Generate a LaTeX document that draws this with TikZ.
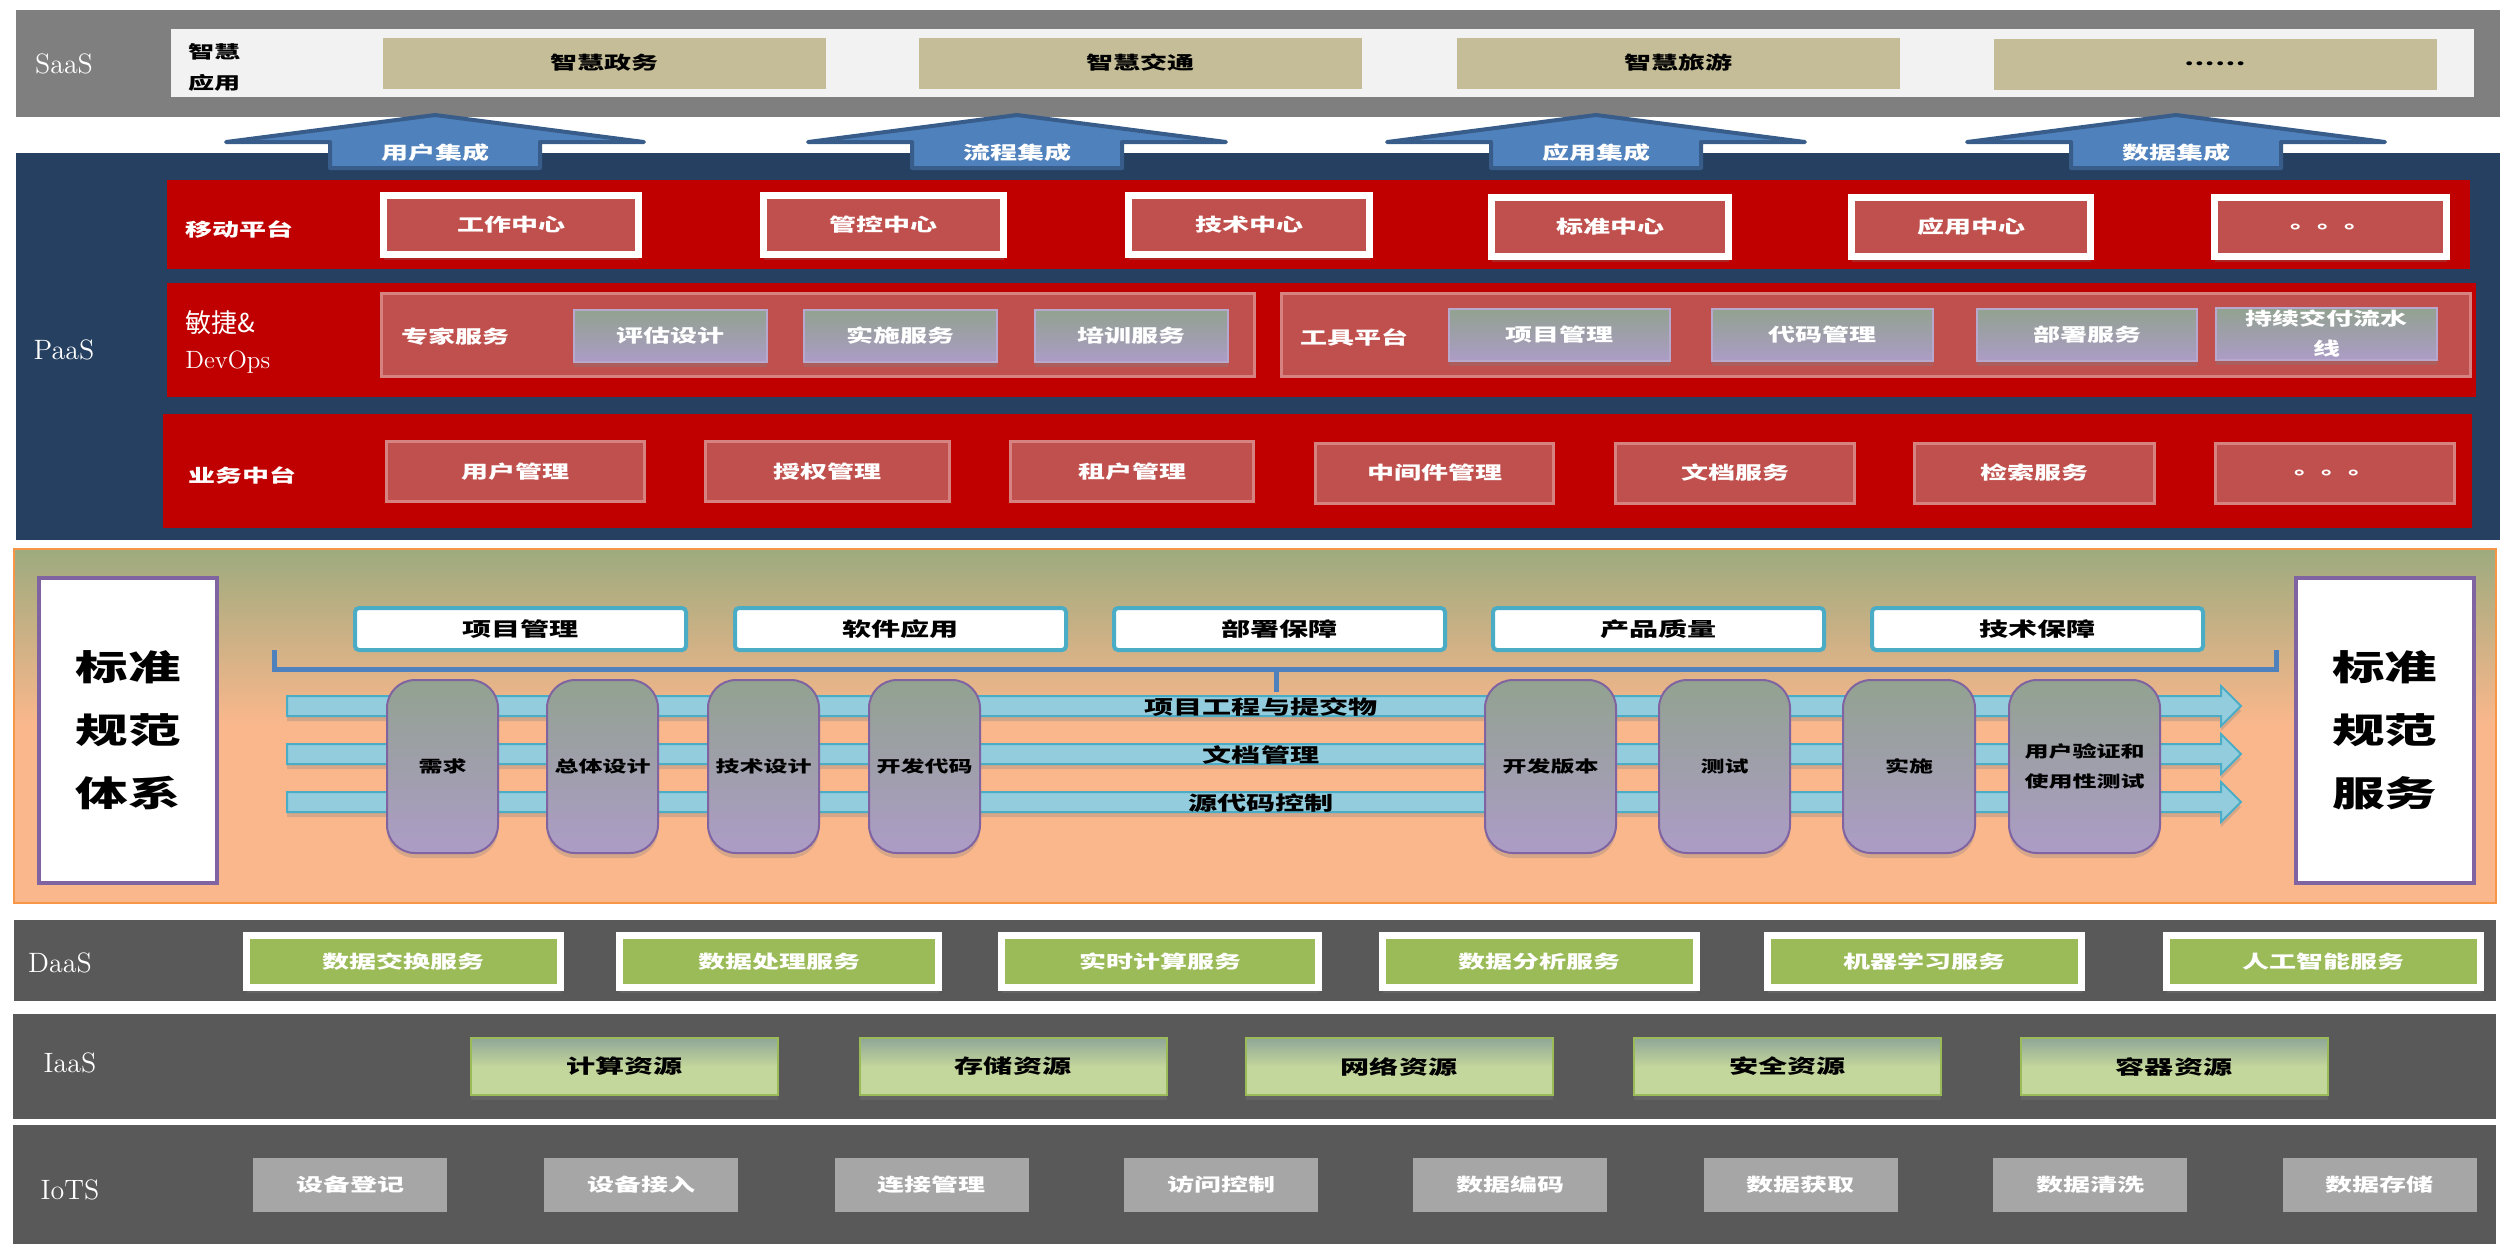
\documentclass[tikz,border=0pt]{standalone}
\usepackage{fontspec}
\newfontfamily\cjk[FakeStretch=1.5]{Noto Sans CJK SC}
\newfontfamily\cjkn{Noto Sans CJK SC}
\usepackage{tikz}
\usetikzlibrary{shadows}
\definecolor{argray}{RGB}{127,127,127}
\definecolor{arpanel}{RGB}{242,242,242}
\definecolor{arkhaki}{RGB}{196,189,151}
\definecolor{arblue}{RGB}{79,129,189}
\definecolor{arblueD}{RGB}{56,93,138}
\definecolor{arnavy}{RGB}{37,64,97}
\definecolor{arred}{RGB}{192,0,0}
\definecolor{arrose}{RGB}{192,80,77}
\definecolor{arpink}{RGB}{214,130,128}
\definecolor{arsage}{RGB}{146,162,144}
\definecolor{arlav}{RGB}{172,156,198}
\definecolor{arlavL}{RGB}{183,169,206}
\definecolor{arviolet}{RGB}{128,100,162}
\definecolor{arolive}{RGB}{157,171,126}
\definecolor{arpeach}{RGB}{251,183,140}
\definecolor{arorange}{RGB}{247,150,70}
\definecolor{arteal}{RGB}{75,172,198}
\definecolor{araqua}{RGB}{147,205,221}
\definecolor{ardark}{RGB}{89,89,89}
\definecolor{argreen}{RGB}{155,187,89}
\definecolor{argreenL}{RGB}{195,214,155}
\definecolor{argreenG}{RGB}{143,166,152}
\definecolor{arsilver}{RGB}{166,166,166}

\begin{document}
\begin{tikzpicture}[x=0.5pt, y=-0.5pt,
  softshadow/.style={drop shadow={shadow xshift=0pt, shadow yshift=-2.5pt, opacity=0.3}},
  tierlbl/.style={text=white, font=\fontsize{14}{16}\selectfont, inner sep=0pt},
  rowlbl/.style={text=white, font=\cjk\bfseries\fontsize{9}{11}\selectfont, inner sep=0pt},
  appbox/.style={
    rectangle, fill=arkhaki,
    minimum width=221.5pt, minimum height=25.5pt, inner sep=0pt,
    font=\cjk\bfseries\fontsize{9}{11}\selectfont
  },
  integ/.style={draw=arblueD, fill=arblue, line width=2pt, line join=round},
  centerbox/.style={
    rectangle, fill=arrose, draw=white, line width=3.5pt,
    minimum height=29.5pt, inner sep=0pt, softshadow,
    text=white, font=\cjk\bfseries\fontsize{9}{11}\selectfont
  },
  groupbox/.style={rectangle, fill=arrose, draw=arpink, line width=1.5pt, minimum height=41.5pt},
  devbox/.style={
    rectangle, top color=arsage, bottom color=arlav, draw=arlavL, line width=1pt,
    minimum height=26pt, inner sep=0pt, softshadow, align=center,
    text=white, font=\cjk\bfseries\fontsize{9}{15}\selectfont
  },
  svcbox/.style={
    rectangle, fill=arrose, draw=arpink, line width=1.5pt,
    minimum height=30pt, inner sep=0pt,
    text=white, font=\cjk\bfseries\fontsize{9}{11}\selectfont
  },
  stdbox/.style={
    rectangle, fill=white, draw=arviolet, line width=2pt,
    minimum width=89pt, minimum height=152.5pt, align=center,
    font=\cjk\bfseries\fontsize{17.5}{31.5}\selectfont
  },
  areabox/.style={
    rectangle, rounded corners=2pt, fill=white, draw=arteal, line width=2pt,
    minimum width=165.5pt, minimum height=21pt, inner sep=0pt,
    font=\cjk\bfseries\fontsize{9.7}{11}\selectfont
  },
  pillar/.style={
    rectangle, rounded corners=14pt, top color=arsage, bottom color=arlav,
    draw=arviolet, line width=1pt, minimum height=86.5pt, inner sep=0pt,
    softshadow, align=center, font=\cjk\bfseries\fontsize{8}{15}\selectfont
  },
  flow/.style={fill=araqua, draw=arteal, line width=1pt, softshadow},
  flowlbl/.style={font=\cjk\bfseries\fontsize{9.7}{11}\selectfont, inner sep=0pt},
  databox/.style={
    rectangle, fill=argreen, draw=white, line width=3.5pt,
    minimum height=26pt, inner sep=0pt, softshadow,
    text=white, font=\cjk\bfseries\fontsize{9}{11}\selectfont
  },
  resbox/.style={
    rectangle, top color=argreenG, bottom color=argreenL, middle color=argreenL,
    draw=argreen, line width=1pt,
    minimum width=153.5pt, minimum height=28.5pt, inner sep=0pt, softshadow,
    font=\cjk\bfseries\fontsize{9.7}{11}\selectfont
  },
  iotbox/.style={
    rectangle, fill=arsilver, minimum width=97pt, minimum height=27pt, inner sep=0pt,
    text=white, font=\cjk\bfseries\fontsize{9}{11}\selectfont
  }
]
\useasboundingbox (0,0) rectangle (2503,1244);

% SaaS
\fill[argray] (16,10) rectangle (2500,117);
\fill[arpanel] (171,29) rectangle (2474,97);
\node[tierlbl] (saas) at (64,64) {SaaS};
\node[anchor=west, align=left, inner sep=0pt, font=\cjk\bfseries\fontsize{8.7}{15.5}\selectfont] (smart) at (188,67) {智慧\\应用};
\node[appbox] (app1) at (604,63)  {智慧政务};
\node[appbox] (app2) at (1140,63) {智慧交通};
\node[appbox] (app3) at (1678,63) {智慧旅游};
\node[appbox] (app4) at (2215,64) {……};

% PaaS
\fill[arnavy] (16,153) rectangle (2500,540);
\node[tierlbl] (paas) at (64,350) {PaaS};

\draw[integ] (435,115) -- (644,142) -- (540,142) -- (540,168) -- (330,168) -- (330,142) -- (226,142) -- cycle;
\draw[integ] (1017,115) -- (1226,142) -- (1122,142) -- (1122,168) -- (912,168) -- (912,142) -- (808,142) -- cycle;
\draw[integ] (1596,115) -- (1805,142) -- (1701,142) -- (1701,168) -- (1491,168) -- (1491,142) -- (1387,142) -- cycle;
\draw[integ] (2176,115) -- (2385,142) -- (2281,142) -- (2281,168) -- (2071,168) -- (2071,142) -- (1967,142) -- cycle;
\node[rowlbl] (int1) at (435,153)  {用户集成};
\node[rowlbl] (int2) at (1017,153) {流程集成};
\node[rowlbl] (int3) at (1596,153) {应用集成};
\node[rowlbl] (int4) at (2176,153) {数据集成};

\fill[arred] (167,180) rectangle (2470,269);
\node[rowlbl] (mobile) at (239,229) {移动平台};
\node[centerbox, minimum width=127.5pt] (mc1) at (511,225)    {工作中心};
\node[centerbox, minimum width=120pt]   (mc2) at (883.5,225)  {管控中心};
\node[centerbox, minimum width=120.5pt] (mc3) at (1249,225)   {技术中心};
\node[centerbox, minimum width=118.5pt] (mc4) at (1610,227)   {标准中心};
\node[centerbox, minimum width=119.5pt] (mc5) at (1971,227)   {应用中心};
\node[centerbox, minimum width=116pt]   (mc6) at (2330.5,227) {。。。};

\fill[arred] (167,283) rectangle (2476,397);
\node[anchor=west, inner sep=0pt, text=white, font=\cjkn\fontsize{13}{15}\selectfont] (agile) at (185,323) {敏捷\&};
\node[anchor=west, inner sep=0pt, text=white, font=\fontsize{12.5}{14}\selectfont] (devops) at (185,362) {DevOps};
\node[groupbox, minimum width=436.5pt] (expert) at (818,335) {};
\node[groupbox, minimum width=594.5pt] (tools) at (1876,335) {};
\node[rowlbl] (expertlbl) at (455,337)  {专家服务};
\node[rowlbl] (toolslbl)  at (1354,337) {工具平台};
\node[devbox, minimum width=96.5pt]  (ex1) at (670.5,336)  {评估设计};
\node[devbox, minimum width=96.5pt]  (ex2) at (900.5,336)  {实施服务};
\node[devbox, minimum width=96.5pt]  (ex3) at (1131.5,336) {培训服务};
\node[devbox, minimum width=110.5pt] (tl1) at (1559.5,335) {项目管理};
\node[devbox, minimum width=110.5pt] (tl2) at (1822.5,335) {代码管理};
\node[devbox, minimum width=110pt]   (tl3) at (2087,335)   {部署服务};
\node[devbox, minimum width=110.5pt] (tl4) at (2326.5,334) {持续交付流水\\线};

\fill[arred] (163,414) rectangle (2472,528);
\node[rowlbl] (business) at (242,475) {业务中台};
\node[svcbox, minimum width=129pt]   (bs1) at (515.5,471.5) {用户管理};
\node[svcbox, minimum width=122pt]   (bs2) at (827.5,471.5) {授权管理};
\node[svcbox, minimum width=121.5pt] (bs3) at (1132,471.5)  {租户管理};
\node[svcbox, minimum width=119pt]   (bs4) at (1434.5,473)  {中间件管理};
\node[svcbox, minimum width=119.5pt] (bs5) at (1735,473)    {文档服务};
\node[svcbox, minimum width=120pt]   (bs6) at (2034.5,473)  {检索服务};
\node[svcbox, minimum width=119.5pt] (bs7) at (2335,473)    {。。。};

% standards
\shade[top color=arolive, bottom color=arpeach, middle color=arpeach] (14,549) rectangle (2496,903);
\draw[arorange, line width=1pt] (14,549) rectangle (2496,903);
\node[stdbox] (stdsys) at (128,730.5)    {标准\\规范\\体系};
\node[stdbox] (stdsvc) at (2384.5,730.5) {标准\\规范\\服务};
\node[areabox] (ar1) at (520.5,629)  {项目管理};
\node[areabox] (ar2) at (900.5,629)  {软件应用};
\node[areabox] (ar3) at (1279.5,629) {部署保障};
\node[areabox] (ar4) at (1658.5,629) {产品质量};
\node[areabox] (ar5) at (2037.5,629) {技术保障};
\draw[arblue, line width=2.5pt] (274,650) -- (274,669) -- (2276,669) -- (2276,650);
\draw[arblue, line width=2.5pt] (1276,669) -- (1276,692);

\draw[flow] (287,696) -- (2221,696) -- (2221,686) -- (2241,706) -- (2221,726) -- (2221,716) -- (287,716) -- cycle;
\draw[flow] (287,744) -- (2221,744) -- (2221,734) -- (2241,754) -- (2221,774) -- (2221,764) -- (287,764) -- cycle;
\draw[flow] (287,792) -- (2221,792) -- (2221,782) -- (2241,802) -- (2221,822) -- (2221,812) -- (287,812) -- cycle;

\node[pillar, minimum width=55.5pt] (ph1) at (442.5,766.5)  {需求};
\node[pillar, minimum width=55.5pt] (ph2) at (602.5,766.5)  {总体设计};
\node[pillar, minimum width=55.5pt] (ph3) at (763.5,766.5)  {技术设计};
\node[pillar, minimum width=55.5pt] (ph4) at (924.5,766.5)  {开发代码};
\node[pillar, minimum width=65.5pt] (ph5) at (1550.5,766.5) {开发版本};
\node[pillar, minimum width=65.5pt] (ph6) at (1724.5,766.5) {测试};
\node[pillar, minimum width=66pt]   (ph7) at (1909,766.5)   {实施};
\node[pillar, minimum width=75.5pt] (ph8) at (2084.5,766.5) {用户验证和\\使用性测试};

\node[flowlbl] (fl1) at (1261,707) {项目工程与提交物};
\node[flowlbl] (fl2) at (1261,755) {文档管理};
\node[flowlbl] (fl3) at (1261,803) {源代码控制};

% DaaS
\fill[ardark] (14,920) rectangle (2496,1001);
\node[tierlbl] (daas) at (60,963) {DaaS};
\node[databox, minimum width=157pt]   (da1) at (403.5,961.5)  {数据交换服务};
\node[databox, minimum width=159.5pt] (da2) at (779,961.5)    {数据处理服务};
\node[databox, minimum width=158.5pt] (da3) at (1160,961.5)   {实时计算服务};
\node[databox, minimum width=157pt]   (da4) at (1539.5,961.5) {数据分析服务};
\node[databox, minimum width=157pt]   (da5) at (1924.5,961.5) {机器学习服务};
\node[databox, minimum width=157pt]   (da6) at (2323.5,961.5) {人工智能服务};

% IaaS
\fill[ardark] (13,1014) rectangle (2496,1119);
\node[tierlbl] (iaas) at (70,1063) {IaaS};
\node[resbox] (rs1) at (624.5,1066.5)  {计算资源};
\node[resbox] (rs2) at (1013,1066.5)   {存储资源};
\node[resbox] (rs3) at (1399,1066.5)   {网络资源};
\node[resbox] (rs4) at (1787.5,1066.5) {安全资源};
\node[resbox] (rs5) at (2174,1066.5)   {容器资源};

% IoTS
\fill[ardark] (13,1125) rectangle (2496,1244);
\node[tierlbl] (iots) at (70,1190) {IoTS};
\node[iotbox] (io1) at (350,1185)    {设备登记};
\node[iotbox] (io2) at (641,1185)    {设备接入};
\node[iotbox] (io3) at (931.5,1185)  {连接管理};
\node[iotbox] (io4) at (1221,1185)   {访问控制};
\node[iotbox] (io5) at (1510,1185)   {数据编码};
\node[iotbox] (io6) at (1800.5,1185) {数据获取};
\node[iotbox] (io7) at (2090,1185)   {数据清洗};
\node[iotbox] (io8) at (2379.5,1185) {数据存储};
\end{tikzpicture}
\end{document}
